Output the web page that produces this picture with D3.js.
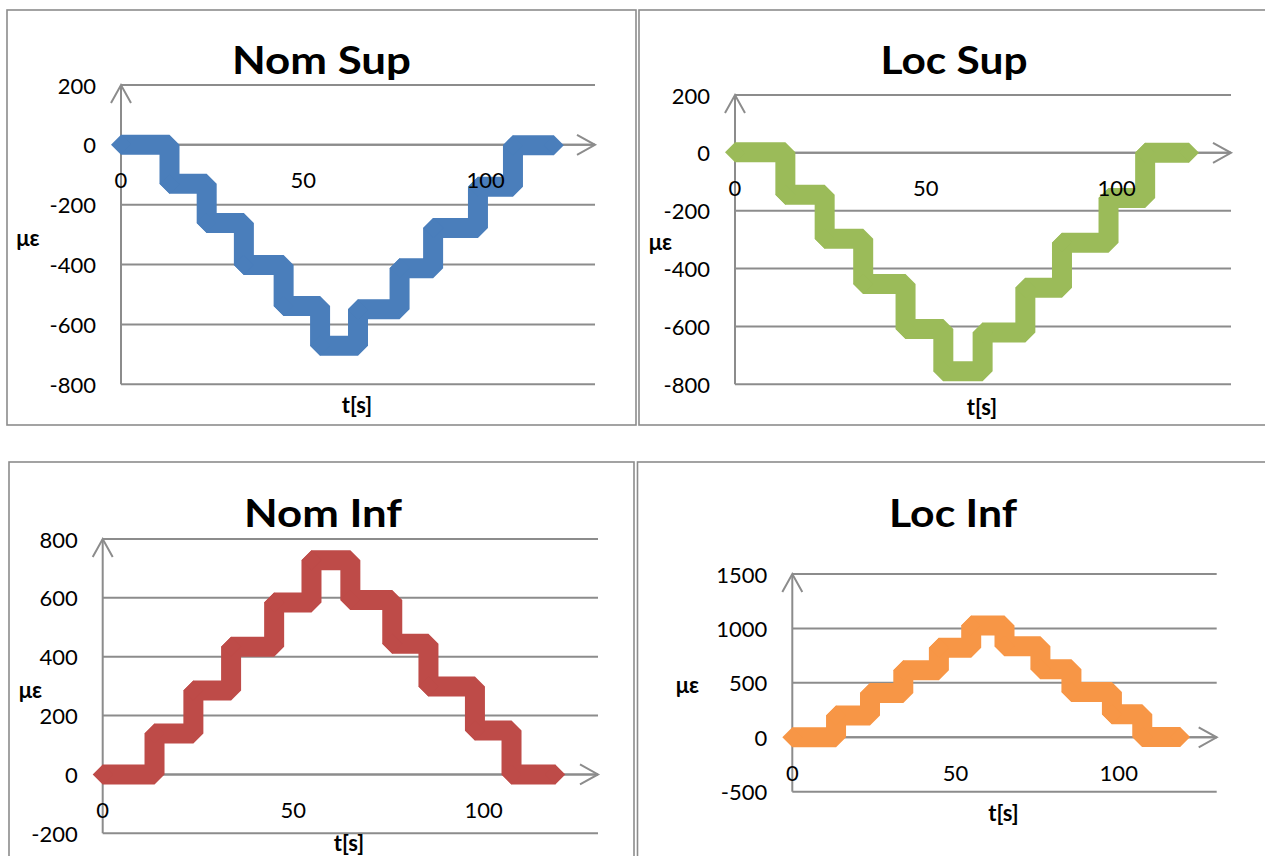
<!DOCTYPE html>
<html>
<head>
<meta charset="utf-8">
<script src="https://cdn.jsdelivr.net/npm/d3@7"></script>
<style>
  html, body { margin: 0; padding: 0; background: #ffffff; }
  svg { display: block; }
  text { font-family: Lato, "Open Sans", "Noto Sans", sans-serif; fill: #000; }
</style>
</head>
<body>
<svg id="chart" width="1265" height="856"></svg>
<script>
// Strain readings (με) over time (s) for the four gauges.
// Each series lists the instants where a new load level begins and the level held.
const timeNomSup = [0, 13.3, 23.5, 33.7, 44.6, 54.6, 65.0, 76.4, 85.6, 97.9, 107.5, 118.7];
const nomSup     = [0, -130, -261, -401, -538, -671, -549, -412, -278, -140, -1, -1];

const timeLocSup = [0, 13.2, 23.5, 33.6, 44.7, 54.6, 64.9, 76.1, 85.7, 97.9, 107.5, 119.0];
const locSup     = [2, -145, -297, -453, -609, -755, -621, -466, -311, -156, 0, 0];

const timeNomInf = [0, 13.6, 23.8, 33.7, 45.0, 54.8, 65.0, 76.0, 85.5, 97.7, 107.3, 118.8];
const nomInf     = [0, 139, 285, 434, 584, 728, 593, 444, 299, 149, 0, 0];

const timeLocInf = [0, 13.4, 23.8, 34.0, 44.9, 54.8, 65.0, 76.0, 85.5, 97.9, 107.2, 118.8];
const locInf     = [0, 199, 407, 616, 822, 1028, 836, 626, 416, 211, 3, 3];

// Axis ticks
const xTicks = [0, 50, 100];
const xDomain = [0, 130];
const yTicksSup = [-800, -600, -400, -200, 0, 200];
const yTicksNomInf = [-200, 0, 200, 400, 600, 800];
const yTicksLocInf = [-500, 0, 500, 1000, 1500];

const titles = ["Nom Sup", "Loc Sup", "Nom Inf", "Loc Inf"];
const xTitle = "t[s]";
const yTitle = "με";

const svg = d3.select("#chart");
const GRID = "#8c8c8c";

// Layout of each chart panel
const panels = [
  { title: titles[0], t: timeNomSup, v: nomSup, color: "#4a7ebb",
    frame: [7, 10, 629, 415], xr: [121, 595], yr: [384.3, 85], yd: [-800, 200], yTicks: yTicksSup,
    titleX: 321.5, titleY: 74, titleLen: 179, yLab: [28, 246], xLab: [357, 413] },
  { title: titles[1], t: timeLocSup, v: locSup, color: "#9bbb59",
    frame: [639, 10, 640, 415], xr: [735, 1231], yr: [384.3, 95], yd: [-800, 200], yTicks: yTicksSup,
    titleX: 954, titleY: 74, titleLen: 147, yLab: [660.5, 250], xLab: [982, 415] },
  { title: titles[2], t: timeNomInf, v: nomInf, color: "#be4b48",
    frame: [9, 462, 625, 420], xr: [102.7, 598], yr: [833.3, 539], yd: [-200, 800], yTicks: yTicksNomInf,
    titleX: 323, titleY: 526.7, titleLen: 158, yLab: [30.5, 698], xLab: [349, 850.5] },
  { title: titles[3], t: timeLocInf, v: locInf, color: "#f79646",
    frame: [637.5, 462, 640, 420], xr: [792.3, 1216.7], yr: [791.7, 574], yd: [-500, 1500], yTicks: yTicksLocInf,
    titleX: 953, titleY: 526.7, titleLen: 128, yLab: [687.5, 693], xLab: [1003.5, 821] }
];

const diamond = "M0,-10L10,0L0,10L-10,0Z";

panels.forEach(p => {
  const g = svg.append("g");

  // chart frame
  g.append("rect")
    .attr("x", p.frame[0]).attr("y", p.frame[1])
    .attr("width", p.frame[2]).attr("height", p.frame[3])
    .attr("fill", "#fff").attr("stroke", GRID).attr("stroke-width", 1.6);

  const x = d3.scaleLinear().domain(xDomain).range(p.xr);
  const y = d3.scaleLinear().domain(p.yd).range(p.yr);

  // horizontal gridlines
  g.append("g").selectAll("line").data(p.yTicks).join("line")
    .attr("x1", p.xr[0]).attr("x2", p.xr[1])
    .attr("y1", d => y(d)).attr("y2", d => y(d))
    .attr("stroke", GRID).attr("stroke-width", 2);

  // vertical axis with arrow head at the top
  const yTop = y(p.yd[1]);
  g.append("line")
    .attr("x1", x(0)).attr("x2", x(0))
    .attr("y1", y(p.yd[0])).attr("y2", yTop)
    .attr("stroke", GRID).attr("stroke-width", 2);
  g.append("path")
    .attr("d", `M${x(0) - 10},${yTop + 18}L${x(0)},${yTop}L${x(0) + 10},${yTop + 18}`)
    .attr("fill", "none").attr("stroke", GRID).attr("stroke-width", 2);

  // horizontal axis at zero with arrow head at the right
  const y0 = y(0);
  const xEnd = p.xr[1];
  g.append("line")
    .attr("x1", x(0)).attr("x2", xEnd)
    .attr("y1", y0).attr("y2", y0)
    .attr("stroke", GRID).attr("stroke-width", 2);
  g.append("path")
    .attr("d", `M${xEnd - 18},${y0 - 10}L${xEnd},${y0}L${xEnd - 18},${y0 + 10}`)
    .attr("fill", "none").attr("stroke", GRID).attr("stroke-width", 2);

  // series: stepped trace drawn as a thick band with diamond markers
  const pts = p.t.map((t, i) => [t, p.v[i]]);
  const line = d3.line().x(d => x(d[0])).y(d => y(d[1])).curve(d3.curveStepAfter);
  g.append("path")
    .attr("d", line(pts))
    .attr("fill", "none")
    .attr("stroke", p.color)
    .attr("stroke-width", 20)
    .attr("stroke-linejoin", "bevel")
    .attr("stroke-linecap", "butt");
  g.append("g").selectAll("path").data(pts).join("path")
    .attr("d", diamond)
    .attr("transform", d => `translate(${x(d[0])},${y(d[1])})`)
    .attr("fill", p.color);

  // y tick labels
  g.append("g").selectAll("text").data(p.yTicks).join("text")
    .attr("x", x(0) - 25).attr("y", d => y(d))
    .attr("text-anchor", "end").attr("dominant-baseline", "central")
    .style("font-size", "22px")
    .text(d => d);

  // x tick labels, placed next to the zero line
  g.append("g").selectAll("text").data(xTicks).join("text")
    .attr("x", d => x(d)).attr("y", y0 + 35)
    .attr("text-anchor", "middle").attr("dominant-baseline", "central")
    .style("font-size", "22px")
    .text(d => d);

  // chart title
  g.append("text")
    .attr("x", p.titleX).attr("y", p.titleY)
    .attr("text-anchor", "middle")
    .attr("textLength", p.titleLen).attr("lengthAdjust", "spacingAndGlyphs")
    .style("font-size", "38px").style("font-weight", "bold")
    .text(p.title);

  // axis titles
  g.append("text")
    .attr("x", p.yLab[0]).attr("y", p.yLab[1])
    .attr("text-anchor", "middle")
    .style("font-size", "22px").style("font-weight", "bold")
    .text(yTitle);
  g.append("text")
    .attr("x", p.xLab[0]).attr("y", p.xLab[1])
    .attr("text-anchor", "middle")
    .style("font-size", "22px").style("font-weight", "bold")
    .text(xTitle);
});
</script>
</body>
</html>
